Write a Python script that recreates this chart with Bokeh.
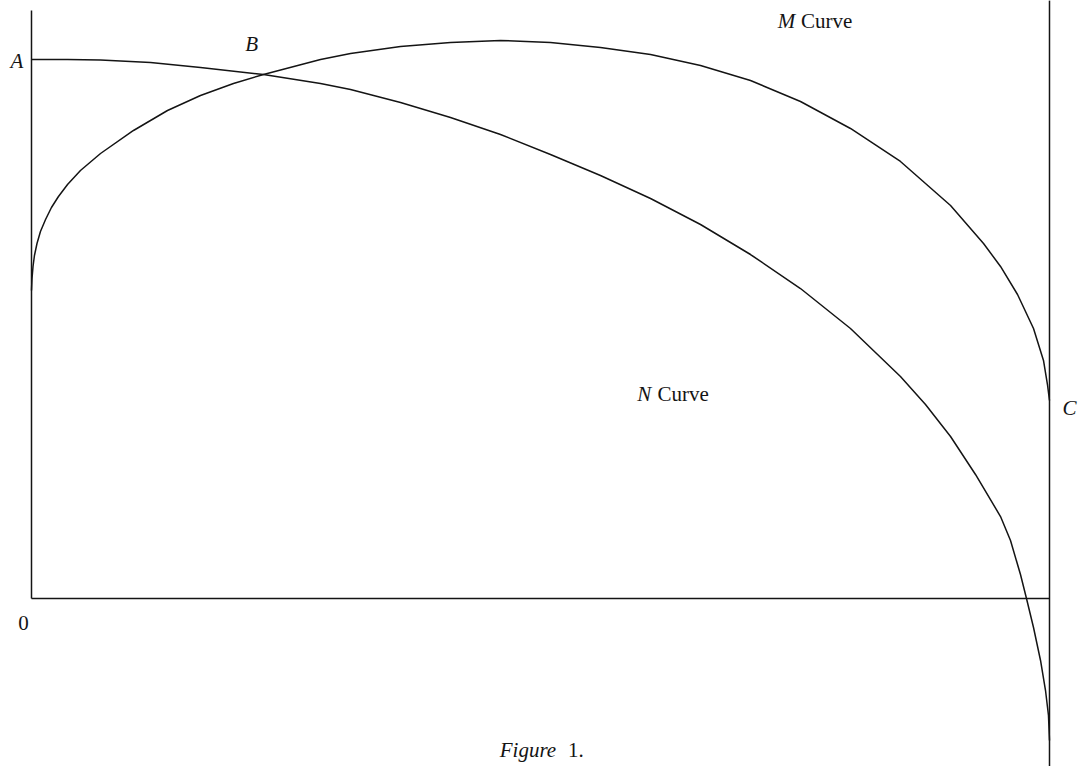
from bokeh.plotting import figure
from bokeh.models import Range1d
from bokeh.core.properties import value
from bokeh.embed import file_html
from bokeh.resources import INLINE

# ---- data (x: 0..100 along the base, y: 0 at the base, A = 100) ----
m_x = [0.00, 0.05, 0.15, 0.29, 0.54, 0.88, 1.38, 1.96, 2.65, 3.54, 4.81, 6.78, 10.02,
       13.36, 16.60, 19.84, 22.79, 28.39, 31.34, 36.25, 41.16, 46.07, 50.98, 55.89,
       60.81, 65.72, 70.63, 75.54, 80.45, 85.36, 90.28, 93.52, 95.19, 96.86, 98.43,
       99.41, 99.80, 100.0]
m_y = [57.14, 59.37, 61.60, 63.64, 65.86, 68.09, 70.32, 72.54, 74.58, 76.81, 79.41,
       82.56, 86.83, 90.54, 93.32, 95.55, 97.22, 100.00, 101.11, 102.41, 103.15, 103.53,
       103.15, 102.23, 100.93, 98.89, 96.10, 92.21, 87.20, 81.08, 72.91, 65.86, 61.60,
       56.40, 50.09, 44.16, 39.70, 36.73]

n_x = [0.00, 3.54, 6.78, 11.69, 16.60, 22.79, 28.39, 31.34, 36.25, 41.16, 46.07, 50.98,
       55.89, 60.81, 65.72, 70.63, 75.54, 80.45, 85.36, 87.82, 90.28, 92.73, 95.19,
       96.17, 97.15, 97.74, 98.43, 99.12, 99.61, 99.90, 100.0]
n_y = [100.00, 100.00, 99.91, 99.44, 98.52, 97.22, 95.55, 94.43, 92.02, 89.24, 86.09,
       82.37, 78.48, 74.21, 69.39, 63.82, 57.51, 50.09, 41.19, 35.99, 30.06, 23.01,
       15.21, 10.76, 4.45, 0.00, -5.38, -11.50, -17.07, -21.71, -26.35]

# frame lines
left_x = [0, 0]
left_y = [0, 109.1]
base_x = [0, 100]
base_y = [0, 0]
right_x = [100, 100]
right_y = [-32.0, 111.0]

# labels: italic letters and roman words
ital_text = ["A", "B", "M", "N", "C", "Figure"]
ital_x = [-0.8, 21.0, 73.3, 59.5, 101.27, 46.0]
ital_y = [99.7, 102.9, 107.2, 38.0, 35.4, -28.1]
ital_align = ["right", "left", "left", "left", "left", "left"]

rom_text = ["0", "Curve", "Curve", "1."]
rom_x = [-1.3, 75.6, 61.5, 52.7]
rom_y = [-4.5, 107.2, 38.0, -28.1]

INK = "#141414"
FONT = value("Liberation Serif")

p = figure(width=1078, height=766, output_backend="svg", toolbar_location=None,
           x_range=Range1d(-3.045, 102.849), y_range=Range1d(-31.169, 110.946),
           x_axis_type=None, y_axis_type=None, min_border=0,
           outline_line_color=None, background_fill_color="white",
           border_fill_color="white")

for xs, ys in [(left_x, left_y), (base_x, base_y), (right_x, right_y)]:
    p.line(xs, ys, line_color=INK, line_width=1.5)

p.line(m_x, m_y, line_color=INK, line_width=1.5)
p.line(n_x, n_y, line_color=INK, line_width=1.5)

p.text(x=ital_x, y=ital_y, text=ital_text, text_align=ital_align,
       text_baseline="alphabetic", text_font=FONT, text_font_style="italic",
       text_font_size="21px", text_color=INK)
p.text(x=rom_x, y=rom_y, text=rom_text, text_align="left",
       text_baseline="alphabetic", text_font=FONT, text_font_style="normal",
       text_font_size="21px", text_color=INK)

open("out.html", "w").write(file_html(p, INLINE))
